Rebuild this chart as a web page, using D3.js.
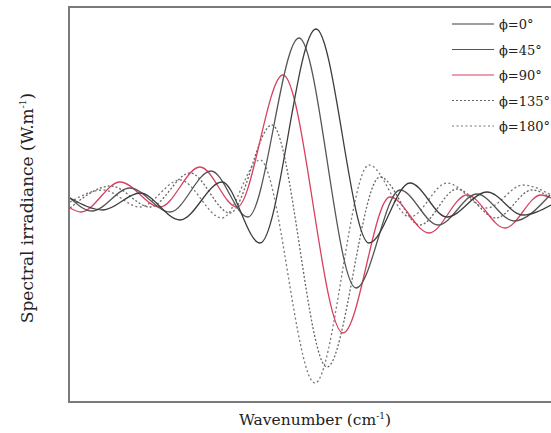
<!DOCTYPE html>
<html>
<head>
<meta charset="utf-8">
<script src="https://cdn.jsdelivr.net/npm/d3@7"></script>
<style>
  body { margin: 0; background: #fff; }
  svg { display: block; }
  .lab { font-family: 'DejaVu Serif', serif; fill: #222; }
</style>
</head>
<body>
<div class="chart"></div>
<script>
// phase values of the five curves (deg)
const phases = [0, 45, 90, 135, 180];

// each curve: wavenumber positions (arbitrary units) and spectral irradiance (arbitrary units)
const wn0   = [1, 34, 71, 111, 153, 191, 247, 300, 341, 378, 418, 454, 482];
const irr0  = [2, -10, 7, -20, 18, -43, 171, -43, 17, -17, 8, -15, -5];

const wn45  = [1, 23, 61, 101, 142, 179, 230, 287, 331, 369, 408, 445, 481];
const irr45 = [2, -11, 12, -12, 29, -17, 162, -88, 10, -25, 6, -21, 5];

const wn90  = [1, 12, 51, 91, 131, 168, 214, 274, 321, 360, 398, 436, 472, 482];
const irr90 = [-8, -12, 18, -7, 33, -7, 125, -133, 3, -33, 5, -28, 5, 2];

const wn135  = [1, 42, 81, 121, 161, 203, 258, 311, 351, 388, 427, 463, 482];
const irr135 = [-8, 14, -7, 27, -13, 75, -167, 23, -25, 11, -18, 10, 2];

const wn180  = [1, 34, 71, 111, 153, 191, 246, 300, 341, 378, 418, 454, 482];
const irr180 = [-2, 10, -7, 20, -18, 40, -183, 35, -17, 17, -8, 15, 5];

const series = [
  {phi: phases[0], x: wn0,   y: irr0,   color: '#3c3c3c', dash: null},
  {phi: phases[1], x: wn45,  y: irr45,  color: '#555555', dash: null},
  {phi: phases[2], x: wn90,  y: irr90,  color: '#d8405e', dash: null},
  {phi: phases[3], x: wn135, y: irr135, color: '#666666', dash: '2,2'},
  {phi: phases[4], x: wn180, y: irr180, color: '#777777', dash: '2,2.5'}
];

const svg_width = 551, svg_height = 433;
const margin = {top: 7, right: -2, bottom: 31, left: 69};
const width = svg_width - margin.left - margin.right;
const height = svg_height - margin.top - margin.bottom;

const svg = d3.select('.chart').append('svg')
  .attr('width', svg_width).attr('height', svg_height);

const g = svg.append('g').attr('transform', `translate(${margin.left},${margin.top})`);

const xScale = d3.scaleLinear().domain([0, 484]).range([0, width]);
const yScale = d3.scaleLinear().domain([-202, 193]).range([height, 0]);

g.append('clipPath').attr('id', 'clip')
  .append('rect').attr('width', width).attr('height', height);

const line = d3.line()
  .x(d => xScale(d[0]))
  .y(d => yScale(d[1]))
  .curve(d3.curveMonotoneX);

const curves = g.append('g').attr('clip-path', 'url(#clip)');
series.slice().reverse().forEach(s => {
  curves.append('path')
    .datum(d3.zip(s.x, s.y))
    .attr('d', line)
    .attr('fill', 'none')
    .attr('stroke', s.color)
    .attr('stroke-width', 1.3)
    .attr('stroke-dasharray', s.dash);
});

// frame
g.append('rect')
  .attr('width', width).attr('height', height)
  .attr('fill', 'none').attr('stroke', '#7a7a7a').attr('stroke-width', 2);

// legend
const legend = svg.append('g').attr('transform', 'translate(452,24)');
series.forEach((s, i) => {
  const row = legend.append('g').attr('transform', `translate(0,${i * 25.5})`);
  row.append('line').attr('x1', 0).attr('x2', 42)
    .attr('stroke', s.color).attr('stroke-width', 1.2)
    .attr('stroke-dasharray', s.dash);
  row.append('text').attr('class', 'lab')
    .attr('x', 47).attr('y', 5)
    .style('font-size', '13px')
    .text(`ϕ=${s.phi}°`);
});

// axis titles
const xt = svg.append('text').attr('class', 'lab')
  .attr('x', 315).attr('y', 425).attr('text-anchor', 'middle')
  .style('font-size', '15.5px');
xt.append('tspan').text('Wavenumber (cm');
xt.append('tspan').text('-1').attr('dy', -6).style('font-size', '9px');
xt.append('tspan').text(')').attr('dy', 6);

const yt = svg.append('text').attr('class', 'lab')
  .attr('transform', 'translate(33,208) rotate(-90)')
  .attr('text-anchor', 'middle')
  .style('font-size', '17px');
yt.append('tspan').text('Spectral irradiance (W.m');
yt.append('tspan').text('-1').attr('dy', -7).style('font-size', '9px');
yt.append('tspan').text(')').attr('dy', 7);
</script>
</body>
</html>
